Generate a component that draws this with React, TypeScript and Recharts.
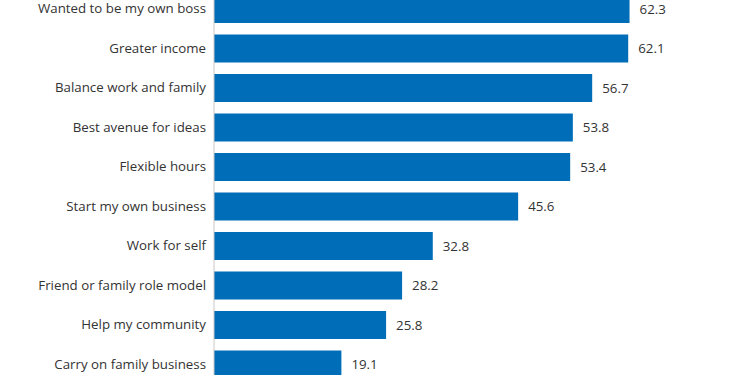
import React from 'react';
import { BarChart, Bar, XAxis, YAxis, LabelList } from 'recharts';

const reasons = [
  'Wanted to be my own boss',
  'Greater income',
  'Balance work and family',
  'Best avenue for ideas',
  'Flexible hours',
  'Start my own business',
  'Work for self',
  'Friend or family role model',
  'Help my community',
  'Carry on family business',
];

const shares = [62.3, 62.1, 56.7, 53.8, 53.4, 45.6, 32.8, 28.2, 25.8, 19.1];

const data = reasons.map((reason, i) => ({ reason, share: shares[i] }));

const FONT = '"Open Sans", sans-serif';

const App: React.FC = () => {
  return (
    <div style={{
      position: 'absolute',
      top: 0,
      left: 0,
      width: 752,
      height: 375,
      overflow: 'hidden',
      background: '#fff'
    }}>
      <div style={{ marginTop: -11 }}>
        <BarChart
          width={881}
          height={395}
          data={data}
          layout="vertical"
          barSize={28}
          margin={{ top: 0, right: 0, bottom: 0, left: 0 }}
        >
          <XAxis type="number" domain={[0, 100]} hide />
          <YAxis
            type="category"
            dataKey="reason"
            width={214}
            tickLine={false}
            axisLine={{ stroke: '#c8c8c8' }}
            tick={{ fill: '#333', fontSize: 13.3, fontFamily: FONT }}
          />
          <Bar dataKey="share" fill="#006db8" isAnimationActive={false}>
            <LabelList
              dataKey="share"
              position="right"
              offset={10}
              style={{ fill: '#333', fontSize: 13.3, fontFamily: FONT }}
              formatter={(v: number) => v.toFixed(1)}
            />
          </Bar>
        </BarChart>
      </div>
    </div>
  );
};

export default App;
